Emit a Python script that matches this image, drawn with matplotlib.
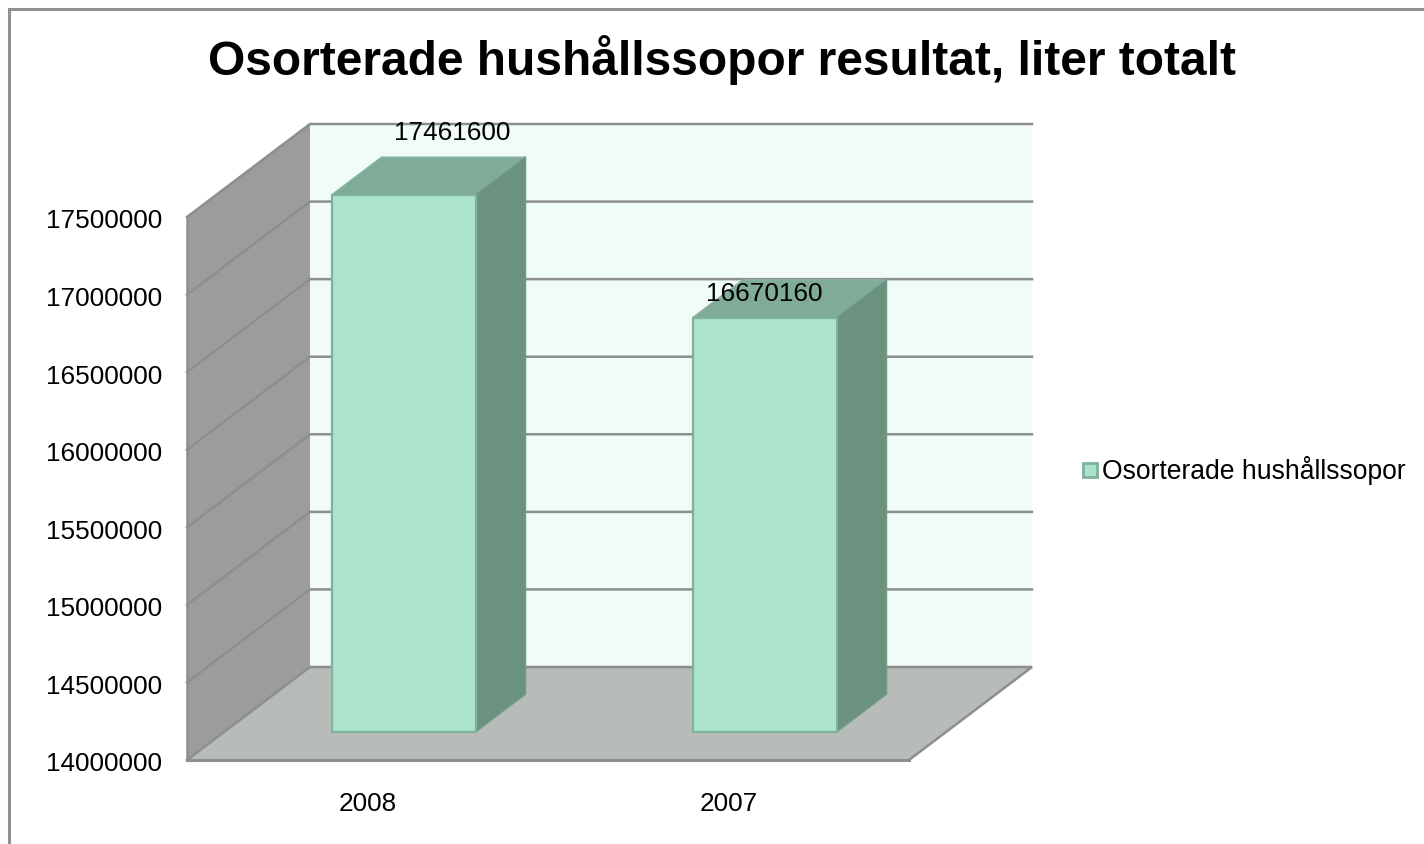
import matplotlib
matplotlib.use('Agg')
import matplotlib.pyplot as plt
from matplotlib.patches import Polygon, Rectangle
from matplotlib.transforms import ScaledTranslation

title = 'Osorterade hushållssopor resultat, liter totalt'
years = ['2008', '2007']
values = [17461600, 16670160]
value_labels = ['17461600', '16670160']
y_ticks = [14000000, 14500000, 15000000, 15500000, 16000000, 16500000, 17000000, 17500000]
y_top = 17500000
y_bottom = 14000000
series_name = 'Osorterade hushållssopor'

W, H = 1424, 844
plt.rcParams['font.family'] = ['Liberation Sans', 'DejaVu Sans']

fig = plt.figure(figsize=(W / 100, H / 100), dpi=100)
ax = fig.add_axes([187 / W, 1 - 760 / H, 722 / W, 543 / H])
ax.set_xlim(0, 2)
ax.set_ylim(y_bottom, y_top)
ax.patch.set_visible(False)
for s in ax.spines.values():
    s.set_visible(False)

# depth of the fake 3d box, in data units
dx = 123 / 361
dy = -(93 / 543) * (y_bottom - y_top)


def proj(x, v, d):
    return (x + d * dx, v + d * dy)


def face(pts, fc, ec='none', lw=0, z=1):
    ax.add_patch(Polygon([proj(*p) for p in pts], closed=True, facecolor=fc, edgecolor=ec,
                         linewidth=lw, zorder=z, clip_on=False, joinstyle='round'))


line_c = '#8c8f8d'

# back wall, side wall, floor
face([(0, y_bottom, 1), (2, y_bottom, 1), (2, y_top, 1), (0, y_top, 1)], '#f1fbf8', z=1)
face([(0, y_bottom, 0), (0, y_bottom, 1), (0, y_top, 1), (0, y_top, 0)], '#9a9d9b', z=1)
face([(0, y_bottom, 0), (2, y_bottom, 0), (2, y_bottom, 1), (0, y_bottom, 1)], '#b7bcb9', z=1)

# gridlines run along the side wall then the back wall
for t in y_ticks:
    pts = [proj(0, t, 0), proj(0, t, 1), proj(2, t, 1)]
    if t == y_bottom:
        pts.append(proj(2, t, 0))
    ax.plot([p[0] for p in pts], [p[1] for p in pts], color=line_c, lw=1.8, zorder=2,
            clip_on=False, solid_joinstyle='miter')
ax.plot([0, 0], [y_bottom, y_top], color=line_c, lw=1.8, zorder=2, clip_on=False)
ax.plot([0, 2], [y_bottom, y_bottom], color=line_c, lw=2.2, zorder=2, clip_on=False)

# bars
bar_w = 144 / 361
bar_shift = -1 / 361
d0 = 28 / 93
d1 = d0 + 50 / 123
edge = '#7db39d'
for i, v in enumerate(values):
    x0 = i + 0.5 - bar_w / 2 + bar_shift
    x1 = i + 0.5 + bar_w / 2 + bar_shift
    face([(x0, v, d0), (x1, v, d0), (x1, v, d1), (x0, v, d1)], '#80ab98', ec='#86b5a1', lw=1, z=3)
    face([(x1, y_bottom, d0), (x1, y_bottom, d1), (x1, v, d1), (x1, v, d0)], '#6b927f', ec='#739a88', lw=1, z=3)
    face([(x0, y_bottom, d0), (x1, y_bottom, d0), (x1, v, d0), (x0, v, d0)], '#abe4cb', ec=edge, lw=1.6, z=4)

# data labels, sit over the bar tops
ax.annotate(value_labels[0], xy=proj(0.5, values[0], d1), xytext=(-2, 24), textcoords='offset pixels',
            ha='center', va='center', fontsize=18.8, color='black', zorder=6, annotation_clip=False)
ax.annotate(value_labels[1], xy=proj(1.5, values[1], d1), xytext=(-51, -14), textcoords='offset pixels',
            ha='center', va='center', fontsize=18.8, color='black', zorder=6, annotation_clip=False)

ax.set_yticks(y_ticks)
ax.set_yticklabels([str(t) for t in y_ticks], fontsize=18.8)
ax.set_xticks([0.5, 1.5])
ax.set_xticklabels(years, fontsize=18.8)
ax.tick_params(axis='both', length=0)
ax.tick_params(axis='y', pad=18)
ax.tick_params(axis='x', pad=23)
# y labels sit slightly under their gridline in the original
for lab in ax.get_yticklabels():
    lab.set_transform(lab.get_transform() + ScaledTranslation(0, -2 / 100, fig.dpi_scale_trans))

fig.text(722 / W, 1 - 60 / H, title, fontsize=34.5, fontweight='bold', ha='center', va='center')

# legend
fig.patches.append(Rectangle((1083 / W, 1 - 477 / H), 14 / W, 14 / H, transform=fig.transFigure,
                             facecolor='#abe4cb', edgecolor='#7db39d', linewidth=2))
fig.text(1102 / W, 1 - 471 / H, series_name, fontsize=19.1, ha='left', va='center')

# chart frame, only top and left are in the picture
fig.add_artist(plt.Line2D([9 / W, 9 / W, 1], [0, 1 - 8.5 / H, 1 - 8.5 / H], color='#8f8f8f', lw=2.2,
                          transform=fig.transFigure, solid_joinstyle='miter'))

fig.savefig('out.png', dpi=100)
